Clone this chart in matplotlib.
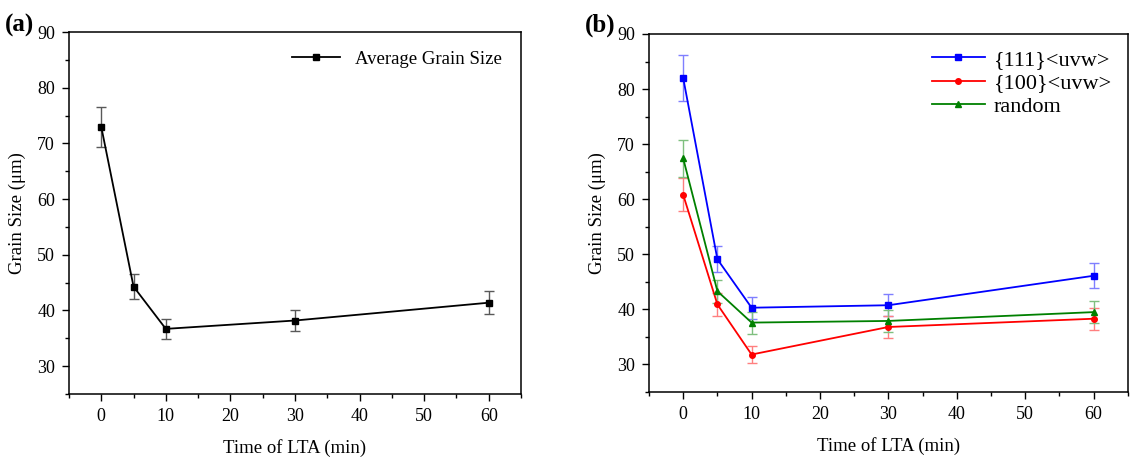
import numpy as np
import matplotlib
matplotlib.use("Agg")
import matplotlib.pyplot as plt
from matplotlib.ticker import MultipleLocator
from matplotlib.lines import Line2D

plt.rcParams['font.family'] = ['Liberation Serif', 'DejaVu Serif']

# ---- data ----
time = [0, 5, 10, 30, 60]

avg = [73.0, 44.3, 36.7, 38.2, 41.4]
avg_err = [3.6, 2.2, 1.8, 1.9, 2.05]

g111 = [82.0, 49.1, 40.3, 40.75, 46.1]
g111_err = [4.1, 2.4, 2.0, 2.0, 2.3]
g100 = [60.8, 40.9, 31.8, 36.8, 38.3]
g100_err = [3.0, 2.1, 1.6, 2.0, 2.0]
grand = [67.4, 43.3, 37.6, 37.9, 39.5]
grand_err = [3.4, 2.1, 2.0, 2.0, 2.0]

fig = plt.figure(figsize=(11.38, 4.59), dpi=100)
ax_a = fig.add_axes([0.0606, 0.1416, 0.3972, 0.7884])
ax_b = fig.add_axes([0.5703, 0.146, 0.4207, 0.780])


def style(ax):
    ax.set_xlim(-5, 65)
    ax.set_ylim(25, 90)
    ax.xaxis.set_major_locator(MultipleLocator(10))
    ax.xaxis.set_minor_locator(MultipleLocator(5))
    ax.set_yticks([30, 40, 50, 60, 70, 80, 90])
    ax.yaxis.set_minor_locator(MultipleLocator(5))
    ax.tick_params(which='both', direction='out', top=False, right=False,
                   labelsize=13, width=1.0)
    ax.tick_params(which='major', length=5, pad=5)
    ax.tick_params(which='minor', length=3)
    for s in ax.spines.values():
        s.set_linewidth(1.1)
    ax.set_xlabel('Time of LTA (min)', fontsize=13.5, labelpad=10)
    ax.set_ylabel('Grain Size (μm)', fontsize=13.5, labelpad=8)


def series(ax, y, err, color, marker, ecolor):
    ax.errorbar(time, y, yerr=err, color=color, marker=marker, ms=4,
                lw=1.3, ecolor=ecolor, elinewidth=1.0, capsize=3.5,
                capthick=1.0)
    return Line2D([], [], color=color, marker=marker, ms=4, lw=1.3)


# ---- (a) ----
h = series(ax_a, avg, avg_err, 'black', 's', '0.35')
style(ax_a)
ax_a.legend([h], ['Average Grain Size'], loc='upper right', frameon=False,
            fontsize=13.5, handlelength=2.6, borderaxespad=0.6)
fig.text(0.004, 0.932, '(a)', fontsize=18, fontweight='bold')

# ---- (b) ----
h1 = series(ax_b, g111, g111_err, 'blue', 's', '#7f7fff')
h2 = series(ax_b, g100, g100_err, 'red', 'o', '#ff7f7f')
h3 = series(ax_b, grand, grand_err, 'green', '^', '#7fbf7f')
style(ax_b)
ax_b.legend([h1, h2, h3], ['{111}<uvw>', '{100}<uvw>', 'random'],
            loc='upper right', frameon=False, fontsize=16, handlelength=2.4,
            handletextpad=0.4, borderaxespad=0.3, labelspacing=0.12)
fig.text(0.514, 0.932, '(b)', fontsize=18, fontweight='bold')

fig.savefig('out.png', dpi=100)
